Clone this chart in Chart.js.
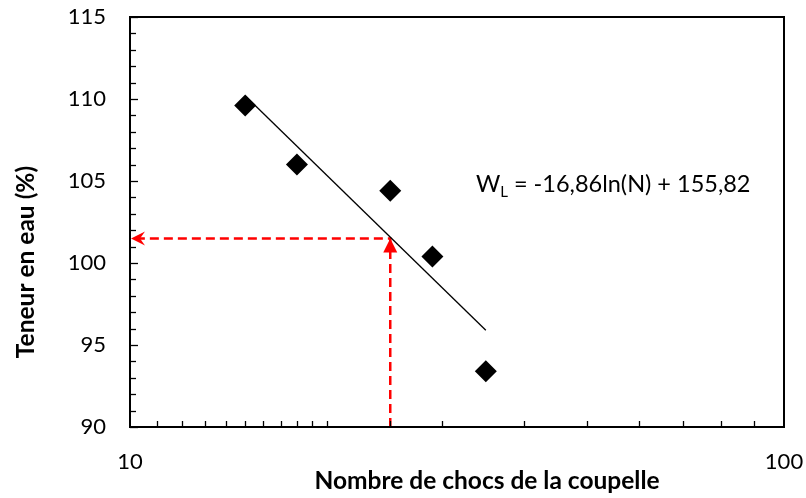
<!DOCTYPE html>
<html><head><meta charset="utf-8">
<script src="https://cdn.jsdelivr.net/npm/chart.js@4"></script>
<style>html,body{margin:0;padding:0;background:#fff}</style>
</head><body>
<canvas id="c" width="806" height="498"></canvas>
<script>
const nChocs = [15, 18, 25, 29, 35];
const teneurEau = [109.6, 106.0, 104.4, 100.4, 93.4];
const trendN = [15, 35];
const trendW = [110.2, 95.9];
const readN = [25, 25, 10];
const readW = [90, 101.5, 101.5];
const xLabels = [10, 100];
const yLabels = [90, 95, 100, 105, 110, 115];
const xTitle = 'Nombre de chocs de la coupelle';
const yTitle = 'Teneur en eau (%)';
const eqMain = 'W', eqSub = 'L', eqRest = ' = -16,86ln(N) + 155,82';
const FONT = 'Lato, "Liberation Sans", sans-serif';

const pts = (xs, ys) => xs.map((x, i) => ({x: x, y: ys[i]}));
const noPad = s => { s.paddingTop = 0; s.paddingBottom = 0; s.paddingLeft = 0; s.paddingRight = 0; };

const decor = {
  id: 'decor',
  afterDraw(chart) {
    const ctx = chart.ctx, a = chart.chartArea;
    const xs = chart.scales.x, ys = chart.scales.y;
    ctx.save();
    // frame
    ctx.strokeStyle = '#000'; ctx.lineWidth = 2;
    ctx.strokeRect(a.left, a.top, a.right - a.left, a.bottom - a.top);
    // y ticks inward
    ctx.lineWidth = 1.3;
    ys.ticks.forEach(t => {
      const y = Math.round(ys.getPixelForValue(t.value)) + 0.5;
      const len = yLabels.includes(t.value) ? 8 : 6;
      ctx.beginPath(); ctx.moveTo(a.left, y); ctx.lineTo(a.left + len, y); ctx.stroke();
    });
    xs.ticks.forEach(t => {
      if (xLabels.includes(t.value)) return;
      const x = Math.round(xs.getPixelForValue(t.value)) + 0.5;
      ctx.beginPath(); ctx.moveTo(x, a.bottom); ctx.lineTo(x, a.bottom - 6); ctx.stroke();
    });
    // arrowheads
    ctx.fillStyle = '#ff0000';
    const vx = xs.getPixelForValue(readN[1]), vy = ys.getPixelForValue(readW[1]);
    ctx.beginPath(); ctx.moveTo(vx, vy); ctx.lineTo(vx - 7, vy + 14); ctx.lineTo(vx + 7, vy + 14); ctx.closePath(); ctx.fill();
    const hx = xs.getPixelForValue(readN[2]) + 1, hy = ys.getPixelForValue(readW[2]);
    ctx.beginPath(); ctx.moveTo(hx, hy); ctx.lineTo(hx + 14, hy - 7); ctx.lineTo(hx + 9, hy); ctx.lineTo(hx + 14, hy + 7); ctx.closePath(); ctx.fill();
    // axis titles
    ctx.fillStyle = '#000';
    ctx.font = 'bold 24.5px ' + FONT;
    ctx.textAlign = 'center'; ctx.textBaseline = 'middle';
    ctx.fillText(xTitle, 487, 481);
    ctx.save(); ctx.translate(26, 262); ctx.rotate(-Math.PI / 2); ctx.fillText(yTitle, 0, 0); ctx.restore();
    // equation
    const ex = xs.getPixelForValue(33.8), ey = ys.getPixelForValue(104.8);
    ctx.textAlign = 'left'; ctx.textBaseline = 'middle';
    ctx.font = '23.5px ' + FONT;
    ctx.fillText(eqMain, ex, ey);
    let w = ctx.measureText(eqMain).width;
    ctx.font = '15px ' + FONT;
    ctx.fillText(eqSub, ex + w, ey + 8);
    w += ctx.measureText(eqSub).width;
    ctx.font = '23.5px ' + FONT;
    ctx.fillText(eqRest, ex + w, ey);
    ctx.restore();
  }
};

new Chart(document.getElementById('c'), {
  type: 'scatter',
  data: {
    datasets: [
      { data: pts(readN, readW), showLine: true, borderColor: '#ff0000', borderWidth: 2.5, borderDash: [9, 5], pointRadius: 0, fill: false, order: 3 },
      { data: pts(trendN, trendW), showLine: true, borderColor: '#000', borderWidth: 1.3, pointRadius: 0, fill: false, order: 2 },
      { data: pts(nChocs, teneurEau), pointStyle: 'rectRot', pointRadius: 11, pointHoverRadius: 11, backgroundColor: '#000', borderColor: '#000', borderWidth: 0, order: 1 }
    ]
  },
  options: {
    responsive: false, animation: false, devicePixelRatio: 1,
    layout: { padding: { top: 17, right: 22, left: 0, bottom: 0 } },
    plugins: { legend: { display: false }, tooltip: { enabled: false } },
    scales: {
      x: {
        type: 'logarithmic', min: 10, max: 100,
        grid: { display: false, drawTicks: false }, border: { display: false },
        ticks: { autoSkip: false, maxRotation: 0, padding: 22, color: '#000', font: { family: FONT, size: 22 },
          callback: v => xLabels.includes(v) ? String(v) : '' },
        afterFit: s => { s.height = 71; noPad(s); }
      },
      y: {
        min: 90, max: 115,
        grid: { display: false, drawTicks: false }, border: { display: false },
        ticks: { stepSize: 1, autoSkip: false, padding: 24, color: '#000', font: { family: FONT, size: 22 },
          callback: v => yLabels.includes(v) ? String(v) : '' },
        afterFit: s => { s.width = 130; noPad(s); }
      }
    }
  },
  plugins: [decor]
});
</script>
</body></html>
